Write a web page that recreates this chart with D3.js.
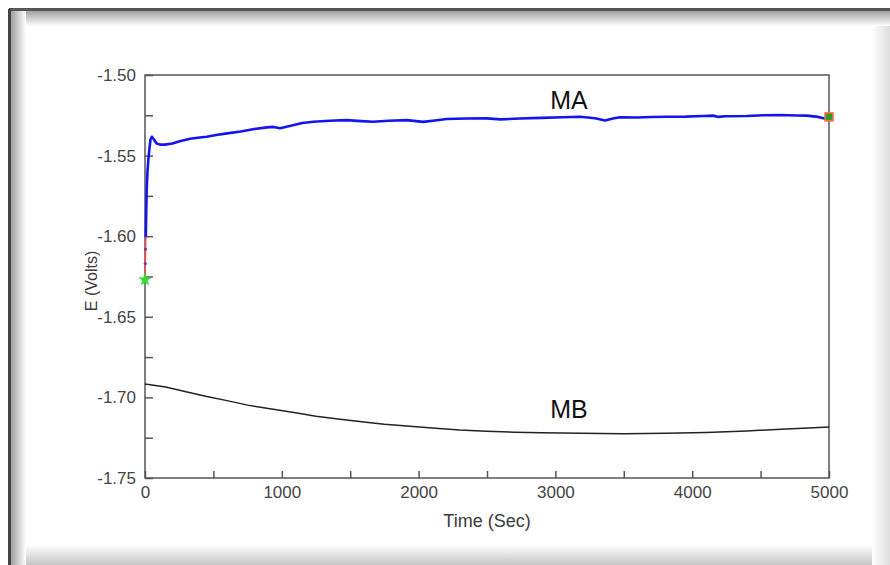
<!DOCTYPE html>
<html>
<head>
<meta charset="UTF-8">
<title></title>
<style>
  body { margin: 0; background: #fff; }
  text { font-family: Arial, "Liberation Sans", sans-serif; }
</style>
</head>
<body>
<svg width="890" height="565"></svg>
<script src="https://cdn.jsdelivr.net/npm/d3@7"></script>
<script>
// MA start-up ramp (red dotted part)
var rampTime = [0, 2, 4, 6];
var rampValue = [-1.627, -1.617, -1.608, -1.600];

// MA (blue)
var maTime = [6, 9, 12, 18, 25, 32, 40, 50, 65, 85, 110, 146, 200, 260, 330, 400, 451, 520, 600, 700, 800, 890, 940, 987, 1050, 1150, 1230, 1350, 1474, 1580, 1667, 1780, 1913, 2033, 2120, 2205, 2350, 2498, 2600, 2741, 2900, 3050, 3180, 3290, 3363, 3420, 3472, 3600, 3700, 3813, 3950, 4080, 4154, 4190, 4240, 4400, 4520, 4642, 4760, 4837, 4920, 4983, 5000];
var maValue = [-1.600, -1.585, -1.572, -1.560, -1.552, -1.546, -1.540, -1.5383, -1.540, -1.5425, -1.5432, -1.5432, -1.5425, -1.5410, -1.5395, -1.5388, -1.5383, -1.5372, -1.5362, -1.5350, -1.5335, -1.5325, -1.5322, -1.5330, -1.5318, -1.5298, -1.5290, -1.5284, -1.5280, -1.5286, -1.5290, -1.5284, -1.5280, -1.5291, -1.5282, -1.5273, -1.5270, -1.5269, -1.5275, -1.5270, -1.5266, -1.5262, -1.5259, -1.5268, -1.5282, -1.5270, -1.5262, -1.5264, -1.5261, -1.5259, -1.5258, -1.5254, -1.5252, -1.5260, -1.5256, -1.5254, -1.5250, -1.5248, -1.5251, -1.5252, -1.5260, -1.5273, -1.5270];

// MB (black)
var mbTime = [0, 150, 300, 451, 600, 750, 937, 1100, 1250, 1425, 1600, 1750, 1913, 2100, 2300, 2498, 2700, 2900, 3180, 3500, 3813, 4100, 4398, 4650, 4850, 5000];
var mbValue = [-1.6917, -1.6935, -1.6965, -1.6995, -1.7020, -1.7048, -1.7074, -1.7095, -1.7117, -1.7136, -1.7153, -1.7166, -1.7177, -1.7190, -1.7202, -1.7210, -1.7216, -1.7220, -1.7223, -1.7225, -1.7223, -1.7218, -1.7208, -1.7198, -1.7190, -1.7184];

var startPoint = [0, -1.627];
var endPoint = [5000, -1.526];

var xMajor = [0, 1000, 2000, 3000, 4000, 5000];
var xMinor = [500, 1500, 2500, 3500, 4500];
var yMajor = [-1.50, -1.55, -1.60, -1.65, -1.70, -1.75];
var yMinor = [-1.525, -1.575, -1.625, -1.675, -1.725];

var svg = d3.select('svg');

// frame with shadow
var defs = svg.append('defs');
function grad(id, x1, y1, x2, y2, c1, c2) {
  var g = defs.append('linearGradient').attr('id', id)
    .attr('x1', x1).attr('y1', y1).attr('x2', x2).attr('y2', y2);
  g.append('stop').attr('offset', '0%').attr('stop-color', c1);
  g.append('stop').attr('offset', '100%').attr('stop-color', c2);
}
grad('gTop', 0, 0, 0, 1, '#9a9a9a', '#ffffff');
grad('gLeft', 0, 0, 1, 0, '#9a9a9a', '#ffffff');
grad('gBottom', 0, 0, 0, 1, '#ffffff', '#c4c4c4');
grad('gRight', 0, 0, 1, 0, '#ffffff', '#dedede');

svg.append('rect').attr('x', 10).attr('y', 10).attr('width', 880).attr('height', 16).attr('fill', 'url(#gTop)');
svg.append('rect').attr('x', 10).attr('y', 10).attr('width', 16).attr('height', 555).attr('fill', 'url(#gLeft)');
svg.append('rect').attr('x', 26).attr('y', 545).attr('width', 864).attr('height', 20).attr('fill', 'url(#gBottom)');
svg.append('rect').attr('x', 872).attr('y', 26).attr('width', 18).attr('height', 539).attr('fill', 'url(#gRight)');
svg.append('line').attr('x1', 9).attr('x2', 890).attr('y1', 9.5).attr('y2', 9.5).attr('stroke', '#555').attr('stroke-width', 3);
svg.append('line').attr('x1', 9.5).attr('x2', 9.5).attr('y1', 9).attr('y2', 565).attr('stroke', '#444').attr('stroke-width', 3);

var x = d3.scaleLinear().domain([0, 5000]).range([145, 829]);
var y = d3.scaleLinear().domain([-1.75, -1.50]).range([478, 75]);

var axisColor = '#555';

// plot box
svg.append('rect')
  .attr('x', x(0)).attr('y', y(-1.50))
  .attr('width', x(5000) - x(0)).attr('height', y(-1.75) - y(-1.50))
  .attr('fill', 'none').attr('stroke', axisColor).attr('stroke-width', 1.5);

var yFmt = function(d) { return d.toFixed(2); };

var gy = svg.append('g').attr('transform', 'translate(' + x(0) + ',0)')
  .call(d3.axisLeft(y).tickValues(yMajor).tickSizeInner(-8).tickSizeOuter(0).tickPadding(9).tickFormat(yFmt));
var gyMinor = svg.append('g').attr('transform', 'translate(' + x(0) + ',0)')
  .call(d3.axisLeft(y).tickValues(yMinor).tickSizeInner(-8).tickSizeOuter(0).tickFormat(''));
var gx = svg.append('g').attr('transform', 'translate(0,' + y(-1.75) + ')')
  .call(d3.axisBottom(x).tickValues(xMajor).tickSizeInner(-7).tickSizeOuter(0).tickPadding(8).tickFormat(d3.format('d')));
var gxMinor = svg.append('g').attr('transform', 'translate(0,' + y(-1.75) + ')')
  .call(d3.axisBottom(x).tickValues(xMinor).tickSizeInner(-7).tickSizeOuter(0).tickFormat(''));

[gy, gyMinor, gx, gxMinor].forEach(function(g) {
  g.select('.domain').remove();
  g.selectAll('line').attr('stroke', axisColor).attr('stroke-width', 1.5);
  g.selectAll('text').attr('fill', '#444').style('font-size', '17px').style('font-family', 'Arial, "Liberation Sans", sans-serif');
});

// axis titles
svg.append('text').attr('x', 487).attr('y', 527).attr('text-anchor', 'middle')
  .style('font-size', '18px').attr('fill', '#3a3a3a').text('Time (Sec)');
svg.append('text').attr('transform', 'translate(97,281) rotate(-90)').attr('text-anchor', 'middle')
  .style('font-size', '16px').attr('fill', '#3a3a3a').text('E (Volts)');

var line = d3.line().x(function(d) { return x(d[0]); }).y(function(d) { return y(d[1]); });

var mb = d3.zip(mbTime, mbValue);
svg.append('path').datum(mb).attr('d', line)
  .attr('fill', 'none').attr('stroke', '#222').attr('stroke-width', 1.5);

var ramp = d3.zip(rampTime, rampValue);
svg.append('path').datum(ramp).attr('d', line)
  .attr('fill', 'none').attr('stroke', '#ff4a4a').attr('stroke-width', 1.6);
svg.selectAll('.rampDot').data(ramp).enter().append('circle')
  .attr('cx', function(d) { return x(d[0]); }).attr('cy', function(d) { return y(d[1]); })
  .attr('r', 1.6).attr('fill', '#6a3fa0');

var ma = d3.zip(maTime, maValue);
svg.append('path').datum(ma).attr('d', line)
  .attr('fill', 'none').attr('stroke', '#1414ee').attr('stroke-width', 2.6).attr('stroke-linejoin', 'round');

// start marker (green star)
svg.append('path')
  .attr('d', d3.symbol().type(d3.symbolStar).size(60)())
  .attr('transform', 'translate(' + x(startPoint[0]) + ',' + y(startPoint[1]) + ')')
  .attr('fill', '#33dd33');

// end marker
svg.append('rect')
  .attr('x', x(endPoint[0]) - 4).attr('y', y(endPoint[1]) - 4)
  .attr('width', 8).attr('height', 8)
  .attr('fill', '#3a9a20').attr('stroke', '#ff6a4a').attr('stroke-width', 1.5);

// series labels
svg.append('text').attr('x', 569).attr('y', 109).attr('text-anchor', 'middle')
  .style('font-size', '25px').attr('fill', '#111').text('MA');
svg.append('text').attr('x', 569).attr('y', 418).attr('text-anchor', 'middle')
  .style('font-size', '25px').attr('fill', '#111').text('MB');
</script>
</body>
</html>
